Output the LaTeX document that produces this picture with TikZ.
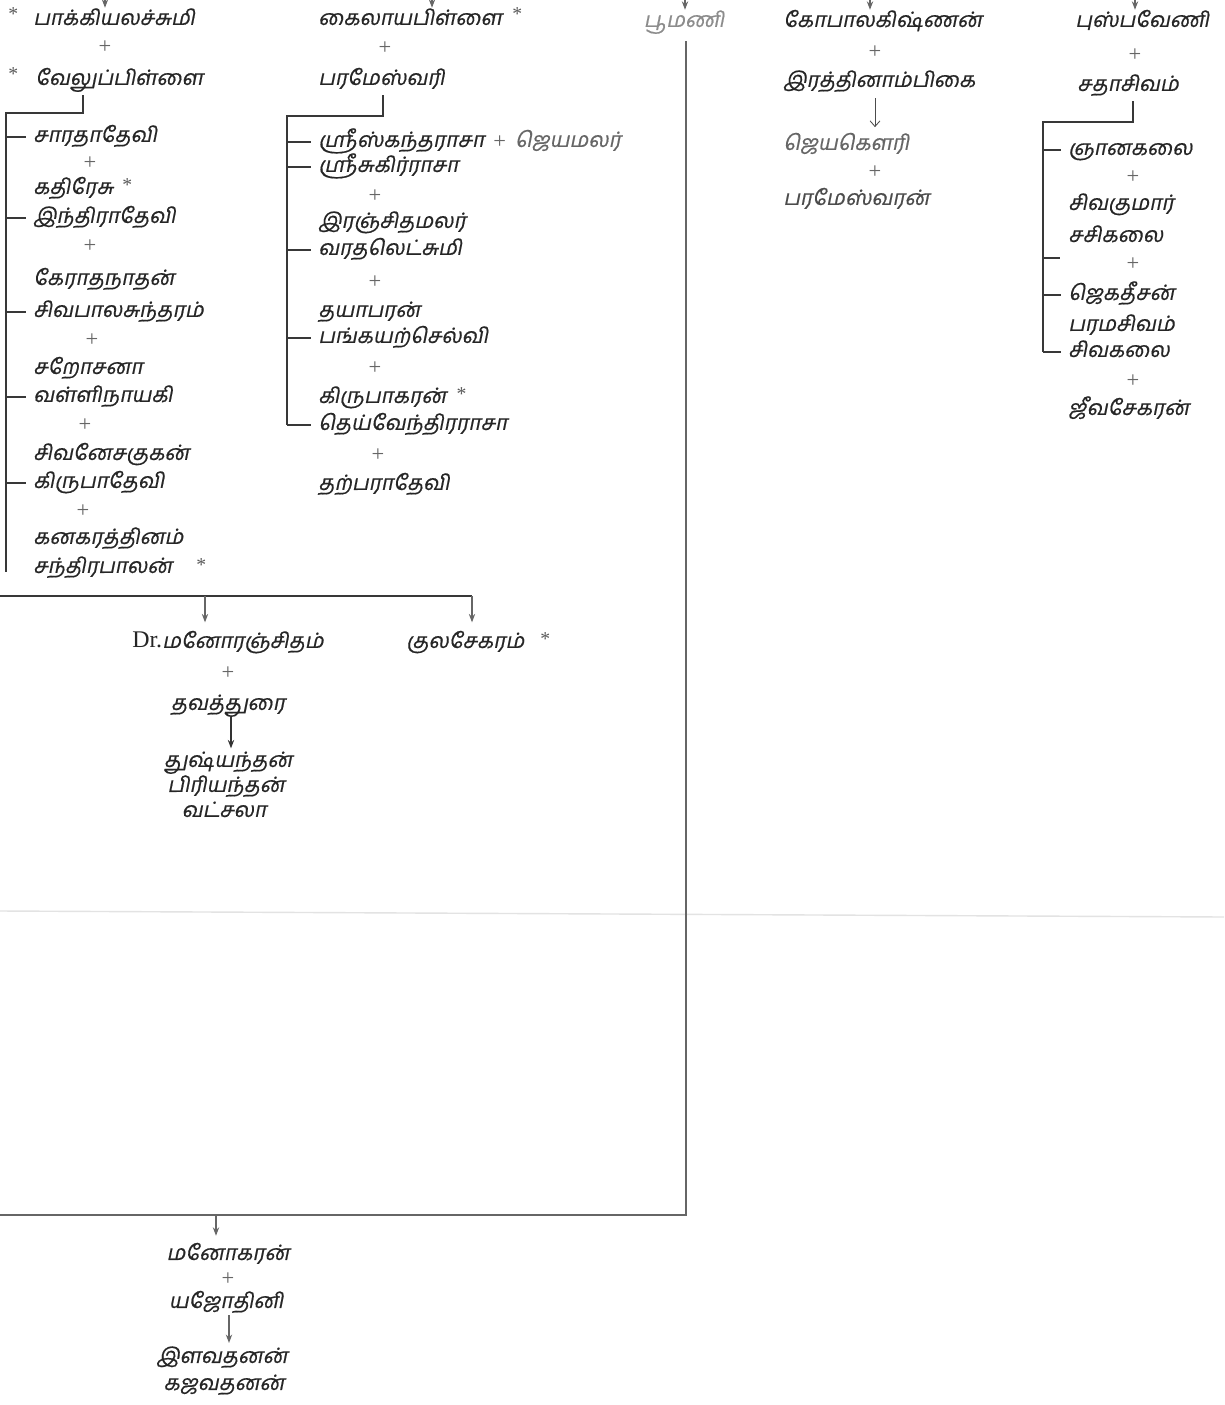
\documentclass[tikz,border=0pt]{standalone}
\usepackage{fontspec}
\setmainfont{Liberation Serif}
\newfontfamily\tam[Script=Tamil,FakeSlant=0.2,FakeBold=0.6]{Hind Madurai}
\usetikzlibrary{arrows.meta}
\tikzset{
  nm/.style={anchor=west, inner sep=0pt, text height=11pt, text depth=4pt,
    font=\tam\fontsize{15}{17}\selectfont, text=black!85},
  nmc/.style={nm, anchor=center},
  pl/.style={inner sep=0pt, font=\fontsize{16}{16}\selectfont, text=black!60},
  st/.style={inner sep=0pt, anchor=west, font=\fontsize{14}{14}\selectfont, text=black!65},
  ln/.style={draw=black!78, line width=1.1pt},
  tk/.style={draw=black!78, line width=1pt},
  thinln/.style={draw=black!60, line width=0.8pt},
  arr/.style={draw=black!60, line width=0.8pt, -{Stealth[length=6pt,width=4.5pt]}},
  openarr/.style={draw=black!70, line width=0.6pt, -{Straight Barb[length=4pt,width=7pt]}},
}
\begin{document}
\begin{tikzpicture}[x=0.025cm,y=-0.025cm]
\useasboundingbox (0,0) rectangle (1224,1405);
\fill[white] (0,0) rectangle (1224,1405);
% faint fold of the scan
\draw[gray!22, line width=1pt] (0,911) -- (1224,917);

% ---------- column 1 ----------
\coordinate (t1) at (105,0);
\node[st] (s1) at (8,14) {*};
\node[nm] (pak) at (33,20) {பாக்கியலச்சுமி};
\draw[arr] (t1) -- ([yshift=1pt]t1 |- pak.north);
\node[pl] (p1) at (105,47) {+};
\node[st] (s2) at (8,74) {*};
\node[nm] (velu) at (35,80) {வேலுப்பிள்ளை};
\coordinate (b1) at (83,113);
\coordinate (b1l) at (6,113);
\coordinate (b1e) at (6,572);
\draw[ln] ([yshift=-3pt]velu.south -| b1) -- (b1) -- (b1l) -- (b1e);

\node[nm] (sarada) at (33,137) {சாரதாதேவி};
\node[pl] (p2) at (90,163) {+};
\node[nm] (kathi) at (33,189) {கதிரேசு};
\node[st] (s3) at ([xshift=6pt,yshift=3pt]kathi.east) {*};
\node[nm] (indira) at (33,218) {இந்திராதேவி};
\node[pl] (p3) at (90,246) {+};
\node[nm] (kera) at (33,280) {கேராதநாதன்};
\node[nm] (sivapala) at (33,312) {சிவபாலசுந்தரம்};
\node[pl] (p4) at (92,340) {+};
\node[nm] (saro) at (33,369) {சறோசனா};
\node[nm] (valli) at (33,397) {வள்ளிநாயகி};
\node[pl] (p5) at (85,425) {+};
\node[nm] (sivane) at (33,455) {சிவனேசகுகன்};
\node[nm] (kirupa1) at (33,483) {கிருபாதேவி};
\node[pl] (p6) at (83,511) {+};
\node[nm] (kanaka) at (33,539) {கனகரத்தினம்};
\node[nm] (santhi) at (33,568) {சந்திரபாலன்};
\node[st] (s4) at (196,565) {*};
\foreach \c in {sarada,indira,sivapala,valli,kirupa1}
  \draw[tk] (b1l |- \c.west) -- ([xshift=-5pt]\c.west);

% line to the next generation
\coordinate (h1l) at (0,596);
\coordinate (h1r) at (472,596);
\coordinate (h1a) at (205,596);
\draw[ln] (h1l) -- (h1r);
\node[nmc] (mano) at (228,643) {{\rmfamily\fontsize{17}{18}\selectfont Dr.}மனோரஞ்சிதம்};
\node[nm] (kula) at (406,643) {குலசேகரம்};
\node[st] (s5) at ([xshift=11pt,yshift=3pt]kula.east) {*};
\draw[arr] (h1a) -- ([yshift=7pt]h1a |- mano.north);
\draw[arr] (h1r) -- ([yshift=7pt]h1r |- kula.north);
\node[pl] (p7) at (228,673) {+};
\node[nmc] (thava) at (228,705) {தவத்துரை};
\node[nmc] (thush) at (228,762) {துஷ்யந்தன்};
\node[nmc] (piri) at (226,787) {பிரியந்தன்};
\node[nmc] (vat) at (224,812) {வட்சலா};
\coordinate (c2a) at (231,0);
\draw[arr, draw=black!80, line width=1pt] ([yshift=-1pt]c2a |- thava.south) -- ([yshift=2pt]c2a |- thush.north);

% ---------- column 2 ----------
\coordinate (t2) at (432,0);
\node[nm] (kai) at (318,20) {கைலாயபிள்ளை};
\node[st] (s6) at ([xshift=7pt,yshift=4pt]kai.east) {*};
\draw[arr] (t2) -- ([yshift=1pt]t2 |- kai.north);
\node[pl] (p8) at (385,48) {+};
\node[nm] (param) at (318,80) {பரமேஸ்வரி};
\coordinate (b2) at (383,116);
\coordinate (b2l) at (287,116);
\coordinate (b2e) at (287,425);
\draw[ln] ([yshift=-3pt]param.south -| b2) -- (b2) -- (b2l) -- (b2e);

\node[nm] (srisk) at (318,142) {ஸ்ரீஸ்கந்தராசா};
\node[pl, anchor=west] (p9) at ([xshift=6pt]srisk.east) {+};
\node[nm, text=black!60] (jeyam) at ([xshift=6pt]p9.east) {ஜெயமலர்};
\node[nm] (srisu) at (318,167) {ஸ்ரீசுகிர்ராசா};
\node[pl] (p10) at (375,196) {+};
\node[nm] (iranj) at (318,223) {இரஞ்சிதமலர்};
\node[nm] (vara) at (318,250) {வரதலெட்சுமி};
\node[pl] (p11) at (375,282) {+};
\node[nm] (thaya) at (318,312) {தயாபரன்};
\node[nm] (pang) at (318,338) {பங்கயற்செல்வி};
\node[pl] (p12) at (375,368) {+};
\node[nm] (kirupak) at (318,398) {கிருபாகரன்};
\node[st] (s7) at ([xshift=7pt,yshift=3pt]kirupak.east) {*};
\node[nm] (theiv) at (318,425) {தெய்வேந்திரராசா};
\node[pl] (p13) at (378,455) {+};
\node[nm] (tharp) at (318,485) {தற்பராதேவி};
\foreach \c in {srisk,srisu,vara,pang,theiv}
  \draw[tk] (b2l |- \c.west) -- ([xshift=-5pt]\c.west);

% ---------- column 3 ----------
\coordinate (t3) at (685,0);
\node[nmc, text=black!45] (poo) at (684,22) {பூமணி};
\draw[arr] (t3) -- ([yshift=1pt]t3 |- poo.north);
\coordinate (c3) at (686,1215);
\coordinate (c3l) at (0,1215);
\coordinate (c3a) at (216,1215);
\draw[thinln] ([yshift=-6pt]poo.south -| c3) -- (c3) -- (c3l);
\node[nmc] (manoh) at (228,1255) {மனோகரன்};
\draw[arr] (c3a) -- ([yshift=6pt]c3a |- manoh.north);
\node[pl] (p14) at (228,1279) {+};
\node[nmc] (yajo) at (226,1303) {யஜோதினி};
\node[nmc] (ila) at (222,1358) {இளவதனன்};
\node[nmc] (gaja) at (224,1385) {கஜவதனன்};
\coordinate (c3b) at (229,0);
\draw[arr] ([yshift=-1pt]c3b |- yajo.south) -- ([yshift=3pt]c3b |- ila.north);

% ---------- column 4 ----------
\coordinate (t4) at (870,0);
\node[nm] (gopal) at (783,22) {கோபாலகிஷ்ணன்};
\draw[arr] (t4) -- ([yshift=1pt]t4 |- gopal.north);
\node[pl] (p15) at (875,52) {+};
\node[nm] (iratt) at (783,82) {இரத்தினாம்பிகை};
\coordinate (c4) at (875,0);
\node[nm, text=black!60] (jeya) at (783,145) {ஜெயகௌரி};
\draw[openarr] ([yshift=-4pt]c4 |- iratt.south) -- ([yshift=5pt]c4 |- jeya.north);
\node[pl] (p16) at (875,172) {+};
\node[nm, text=black!70] (parames) at (783,200) {பரமேஸ்வரன்};

% ---------- column 5 ----------
\coordinate (t5) at (1135,0);
\node[nm] (push) at (1075,22) {புஸ்பவேணி};
\draw[arr] (t5) -- ([yshift=1pt]t5 |- push.north);
\node[pl] (p17) at (1135,55) {+};
\node[nm] (satha) at (1077,86) {சதாசிவம்};
\coordinate (b5) at (1133,122);
\coordinate (b5l) at (1043,122);
\coordinate (b5e) at (1043,352);
\draw[ln] ([yshift=-3pt]satha.south -| b5) -- (b5) -- (b5l) -- (b5e);
\node[nm] (gnana) at (1068,150) {ஞானகலை};
\node[pl] (p18) at (1133,177) {+};
\node[nm] (sivaku) at (1068,205) {சிவகுமார்};
\node[nm] (sasi) at (1068,237) {சசிகலை};
\coordinate (e5) at (1060,258);
\node[pl] (p19) at (1133,264) {+};
\node[nm] (jegath) at (1068,295) {ஜெகதீசன்};
\node[nm] (parama) at (1068,326) {பரமசிவம்};
\node[nm] (sivak) at (1068,352) {சிவகலை};
\node[pl] (p20) at (1133,381) {+};
\node[nm] (jeeva) at (1068,410) {ஜீவசேகரன்};
\foreach \c in {gnana,jegath,sivak}
  \draw[tk] (b5l |- \c.west) -- ([xshift=-5pt]\c.west);
\draw[tk] (b5l |- e5) -- (e5);
\end{tikzpicture}
\end{document}
